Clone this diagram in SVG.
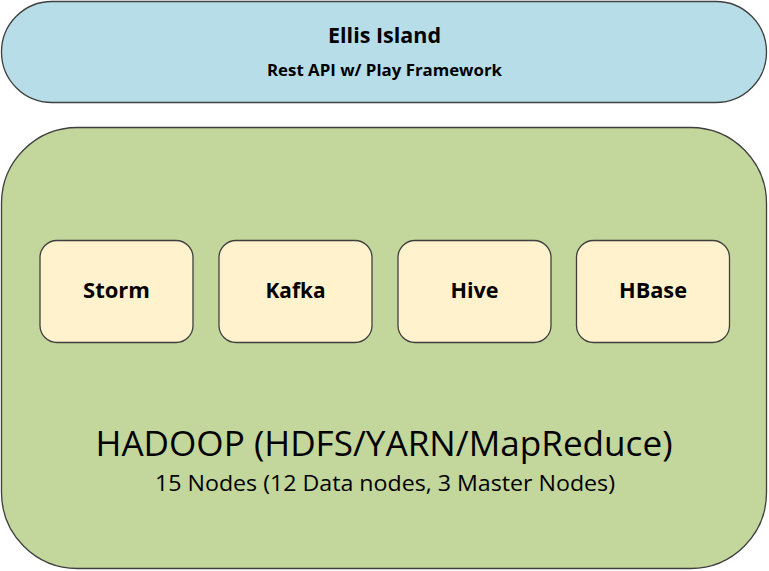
<svg xmlns="http://www.w3.org/2000/svg" width="769" height="571" viewBox="0 0 769 571">
<style>
.box{stroke:#3f3f3f;stroke-width:1.3}
.t{font-family:"Open Sans","Noto Sans",sans-serif;fill:#000;text-anchor:middle}
.b{font-weight:bold}
.comp{fill:#fff2cc}
</style>
<rect width="769" height="571" fill="#fff"/>
<g id="ellis-island">
<rect class="box" x="1.5" y="1.5" width="765" height="101" rx="50.5" ry="50.5" fill="#b7dde8"/>
<text class="t b" x="384.5" y="43" font-size="21" textLength="113" lengthAdjust="spacingAndGlyphs">Ellis Island</text>
<text class="t b" x="384.5" y="76" font-size="15.5" textLength="235" lengthAdjust="spacingAndGlyphs">Rest API w/ Play Framework</text>
</g>
<g id="hadoop">
<rect class="box" x="1.5" y="127.5" width="765" height="441" rx="76" ry="76" fill="#c3d69b"/>
<text class="t" x="384" y="456" font-size="34" textLength="577" lengthAdjust="spacingAndGlyphs">HADOOP (HDFS/YARN/MapReduce)</text>
<text class="t" x="385" y="491" font-size="22" textLength="460" lengthAdjust="spacingAndGlyphs">15 Nodes (12 Data nodes, 3 Master Nodes)</text>
</g>
<g id="storm">
<rect class="box comp" x="40" y="240.5" width="153" height="102" rx="17"/>
<text class="t b" x="116.5" y="298" font-size="21.5" textLength="67" lengthAdjust="spacingAndGlyphs">Storm</text>
</g>
<g id="kafka">
<rect class="box comp" x="219" y="240.5" width="153" height="102" rx="17"/>
<text class="t b" x="295.5" y="298" font-size="21.5" textLength="60" lengthAdjust="spacingAndGlyphs">Kafka</text>
</g>
<g id="hive">
<rect class="box comp" x="398" y="240.5" width="153" height="102" rx="17"/>
<text class="t b" x="474.5" y="298" font-size="21.5" textLength="48" lengthAdjust="spacingAndGlyphs">Hive</text>
</g>
<g id="hbase">
<rect class="box comp" x="576.5" y="240.5" width="153" height="102" rx="17"/>
<text class="t b" x="653" y="298" font-size="21.5" textLength="68" lengthAdjust="spacingAndGlyphs">HBase</text>
</g>
<g id="connectors"></g>
</svg>
